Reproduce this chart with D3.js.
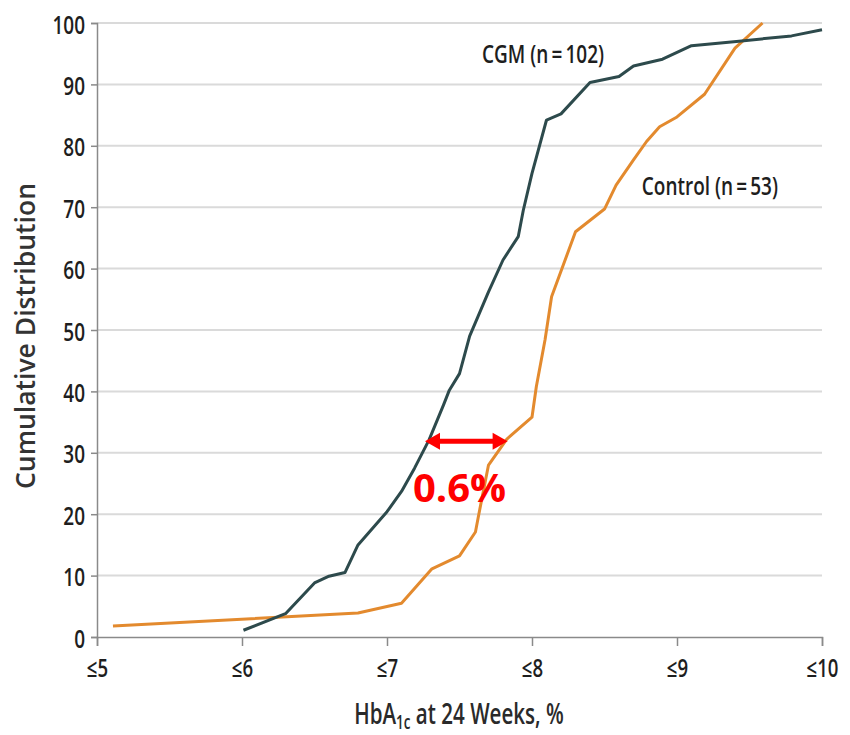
<!DOCTYPE html>
<html>
<head>
<meta charset="utf-8">
<script src="https://cdn.jsdelivr.net/npm/d3@7"></script>
<style>
  html, body { margin: 0; padding: 0; background: #fff; }
  svg { display: block; }
  text { font-family: "Open Sans", sans-serif; }
</style>
</head>
<body>
<svg id="chart" width="850" height="735"></svg>
<script>
// ---- Data ----
const xTicks = [5, 6, 7, 8, 9, 10];
const xTickLabels = ["≤5", "≤6", "≤7", "≤8", "≤9", "≤10"];
const yTicks = [0, 10, 20, 30, 40, 50, 60, 70, 80, 90, 100];

const cgmX = [6.01, 6.30, 6.50, 6.60, 6.71, 6.80, 7.00, 7.10, 7.19, 7.29, 7.39, 7.43, 7.50, 7.57, 7.70, 7.80, 7.905, 7.94, 8.00, 8.10, 8.20, 8.40, 8.60, 8.70, 8.90, 9.10, 9.41, 9.79, 10.0];
const cgmY = [1.1, 3.8, 8.8, 9.9, 10.5, 15.0, 20.4, 23.7, 27.5, 32.1, 37.8, 40.2, 42.9, 49.0, 56.2, 61.4, 65.2, 69.5, 75.5, 84.2, 85.2, 90.3, 91.3, 93.0, 94.1, 96.3, 97.0, 97.9, 98.9];

const ctrlX = [5.11, 6.80, 7.10, 7.31, 7.50, 7.61, 7.63, 7.70, 7.825, 8.00, 8.03, 8.09, 8.135, 8.30, 8.50, 8.58, 8.70, 8.79, 8.88, 9.00, 9.19, 9.40, 9.59];
const ctrlY = [1.8, 3.9, 5.5, 11.1, 13.2, 17.1, 19.6, 28.0, 32.2, 35.8, 40.8, 48.4, 55.4, 66.0, 69.7, 73.6, 77.7, 80.7, 83.1, 84.7, 88.4, 95.9, 100];

const seriesNames = ["CGM (n\u2009=\u2009102)", "Control (n\u2009=\u200953)"];
const diffLabel = "0.6%";
const diffFrom = 7.262, diffTo = 7.832, diffAt = 31.9;

// ---- Layout ----
const svg = d3.select("#chart");
const x = d3.scaleLinear().domain([5, 10]).range([97, 822]);
const y = d3.scaleLinear().domain([0, 100]).range([637, 23]);
const SQ = 0.76; // horizontal squeeze to imitate the condensed face
const TW = 600;  // weight of the condensed texts

// gridlines
svg.append("g").selectAll("line").data(yTicks.filter(d => d > 0)).join("line")
  .attr("x1", x(5)).attr("x2", x(10))
  .attr("y1", d => y(d)).attr("y2", d => y(d))
  .attr("stroke", "#dadada").attr("stroke-width", 2);

// y axis
const yAxis = svg.append("g").attr("transform", `translate(${x(5)},0)`)
  .call(d3.axisLeft(y).tickValues(yTicks).tickSize(6));
yAxis.select(".domain").attr("stroke", "#8a8a8a").attr("stroke-width", 1.5);
yAxis.selectAll(".tick line").attr("stroke", "#8a8a8a").attr("stroke-width", 1.5);
yAxis.selectAll(".tick text")
  .attr("font-size", 25).attr("font-weight", TW).attr("fill", "#1e1e1e")
  .attr("x", -12 / SQ).attr("dy", "0.4em")
  .attr("transform", `scale(${SQ},1)`);

// x axis
const xAxis = svg.append("g").attr("transform", `translate(0,${y(0)})`)
  .call(d3.axisBottom(x).tickValues(xTicks).tickFormat((d, i) => xTickLabels[i]).tickSize(9));
xAxis.select(".domain").attr("stroke", "#8a8a8a").attr("stroke-width", 1.5);
xAxis.selectAll(".tick line").attr("stroke", "#8a8a8a").attr("stroke-width", 1.5);
xAxis.selectAll(".tick text")
  .attr("font-size", 24.5).attr("font-weight", TW).attr("fill", "#1e1e1e")
  .attr("y", 40).attr("dy", 0)
  .attr("transform", `scale(${SQ},1)`);

// lines
const line = d3.line().x(d => x(d[0])).y(d => y(d[1]));
const ctrlData = ctrlX.map((v, i) => [v, ctrlY[i]]);
const cgmData = cgmX.map((v, i) => [v, cgmY[i]]);
svg.append("path").datum(ctrlData).attr("d", line)
  .attr("fill", "none").attr("stroke", "#e38a2e").attr("stroke-width", 3).attr("stroke-linejoin", "round");
svg.append("path").datum(cgmData).attr("d", line)
  .attr("fill", "none").attr("stroke", "#2d4a4c").attr("stroke-width", 3).attr("stroke-linejoin", "round");

// squeezed text helper
function squeezed(px, py, size, str, anchor, factor) {
  const g = svg.append("g").attr("transform", `translate(${px},${py}) scale(${factor},1)`);
  return g.append("text").attr("x", 0).attr("y", 0)
    .attr("font-size", size).attr("font-weight", TW)
    .attr("text-anchor", anchor || "start").attr("fill", "#1e1e1e").text(str);
}

// series labels
squeezed(x(7.655), 62.5, 25, seriesNames[0], "start", SQ);
squeezed(x(8.757), 195, 25, seriesNames[1], "start", SQ);

// axis titles
svg.append("text").attr("transform", `translate(35,336) rotate(-90)`)
  .attr("text-anchor", "middle").attr("font-weight", 600)
  .attr("font-size", 26.5).attr("fill", "#333333").text("Cumulative Distribution");

const xg = svg.append("g").attr("transform", `translate(${x(7.5) - 0.5},724) scale(0.71,1)`);
const xt = xg.append("text").attr("x", 0).attr("y", 0)
  .attr("text-anchor", "middle").attr("font-size", 29).attr("font-weight", TW).attr("fill", "#2a2a2a");
xt.append("tspan").text("HbA");
xt.append("tspan").attr("font-size", 19).attr("dy", 5).text("1c");
xt.append("tspan").attr("dy", -5).text(" at 24 Weeks, %");

// red double arrow annotation
const ax1 = x(diffFrom), ax2 = x(diffTo), ay = y(diffAt);
const headL = 15, headH = 8.5;
svg.append("line")
  .attr("x1", ax1 + headL - 1).attr("x2", ax2 - headL + 1)
  .attr("y1", ay).attr("y2", ay)
  .attr("stroke", "#ff0000").attr("stroke-width", 5);
svg.append("path")
  .attr("d", `M${ax1},${ay} L${ax1 + headL},${ay - headH} L${ax1 + headL},${ay + headH} Z`)
  .attr("fill", "#ff0000");
svg.append("path")
  .attr("d", `M${ax2},${ay} L${ax2 - headL},${ay - headH} L${ax2 - headL},${ay + headH} Z`)
  .attr("fill", "#ff0000");
svg.append("text").attr("x", x(7.5)).attr("y", 502)
  .attr("text-anchor", "middle")
  .attr("font-weight", 700).attr("font-size", 40).attr("fill", "#ff0000").text(diffLabel);
</script>
</body>
</html>
